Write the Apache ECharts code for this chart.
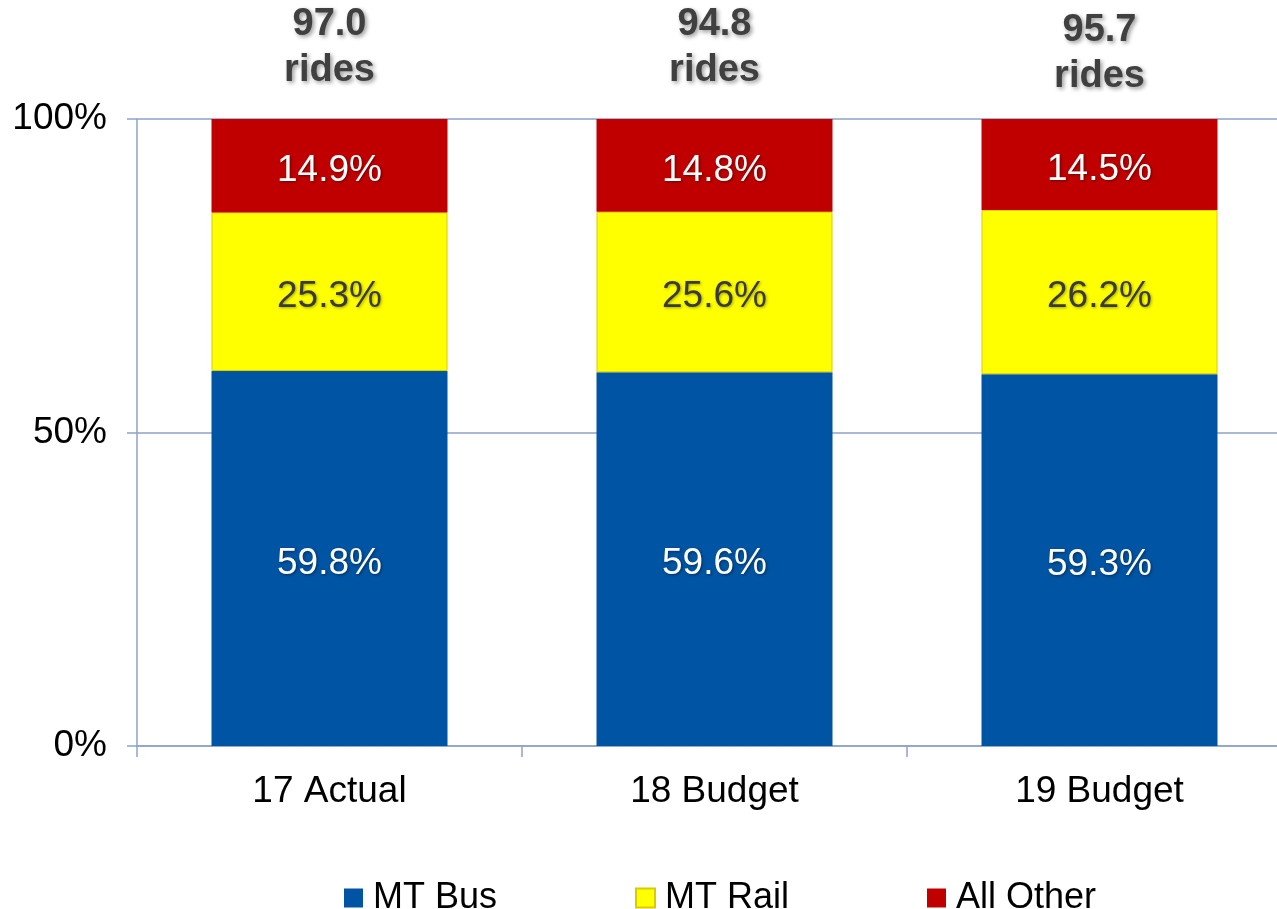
<!DOCTYPE html>
<html>
<head>
<meta charset="utf-8">
<script src="https://cdn.jsdelivr.net/npm/echarts@6/dist/echarts.min.js"></script>
<style>html,body{margin:0;padding:0;background:#fff;}#c{width:1277px;height:909px;}</style>
</head>
<body>
<div id="c"></div>
<script>
const categories = ['17 Actual', '18 Budget', '19 Budget'];
const busValues = [59.8, 59.6, 59.3];
const railValues = [25.3, 25.6, 26.2];
const otherValues = [14.9, 14.8, 14.5];
const ridesTotals = [97.0, 94.8, 95.7];
const yTicks = [0, 50, 100];

const FONT = 'Arial, "Liberation Sans", sans-serif';
const axisColor = '#8EA2C8';
const topLabelDistance = [25, 25, 19];

const chart = echarts.init(document.getElementById('c'));
function pctLabel(color, shadow) {
  return {
    show: true, position: 'inside', color: color, fontSize: 37, fontFamily: FONT,
    offset: [0, 5],
    textShadowColor: shadow, textShadowBlur: 3, textShadowOffsetX: 1, textShadowOffsetY: 1,
    formatter: p => p.value.toFixed(1) + '%'
  };
}
chart.setOption({
  animation: false,
  backgroundColor: '#fff',
  grid: { left: 137, width: 1155, top: 119, bottom: 163, outerBoundsMode: 'none', containLabel: false },
  legend: {
    data: ['MT Bus', 'MT Rail', 'All Other'],
    left: 339, top: 875, itemWidth: 19, itemHeight: 19, itemGap: 138,
    icon: 'rect',
    textStyle: { fontSize: 36, fontFamily: FONT, color: '#000', padding: [0, 0, 0, 5] }
  },
  xAxis: {
    type: 'category', data: categories,
    axisLine: { lineStyle: { color: axisColor, width: 1.5 } },
    axisTick: { show: true, length: 11, lineStyle: { color: axisColor, width: 1.5 } },
    axisLabel: { fontSize: 37, fontFamily: FONT, color: '#000', margin: 27 }
  },
  yAxis: {
    type: 'value', min: 0, max: 100, interval: 50,
    axisLine: { show: true, lineStyle: { color: axisColor, width: 1.5 } },
    axisTick: { show: true, length: 10, lineStyle: { color: axisColor, width: 1.5 } },
    splitLine: { show: true, lineStyle: { color: axisColor, width: 1.5 } },
    axisLabel: {
      fontSize: 37, fontFamily: FONT, color: '#000', margin: 30,
      formatter: v => yTicks.includes(v) ? v + '%' : ''
    }
  },
  series: [
    { name: 'MT Bus', type: 'bar', stack: 's', barWidth: 236, data: busValues,
      itemStyle: { color: '#0054A4' }, label: pctLabel('#fff', 'rgba(0,0,0,0.45)') },
    { name: 'MT Rail', type: 'bar', stack: 's', data: railValues,
      itemStyle: { color: '#FFFF00', borderColor: '#D8CC00', borderWidth: 1 },
      label: pctLabel('#3a3a3a', 'rgba(0,0,0,0.35)') },
    { name: 'All Other', type: 'bar', stack: 's', data: otherValues,
      itemStyle: { color: '#C00000' }, label: pctLabel('#fff', 'rgba(0,0,0,0.45)') },
    { name: 'total', type: 'bar', stack: 's',
      data: ridesTotals.map((v, i) => ({ value: 0, label: { distance: topLabelDistance[i] } })),
      itemStyle: { color: 'transparent' },
      label: {
        show: true, position: 'top',
        fontSize: 38, fontWeight: 'bold', fontFamily: FONT, color: '#404040', lineHeight: 46,
        textShadowColor: 'rgba(0,0,0,0.4)', textShadowBlur: 4, textShadowOffsetX: 2, textShadowOffsetY: 2,
        formatter: p => ridesTotals[p.dataIndex].toFixed(1) + '\nrides'
      } }
  ]
});
</script>
</body>
</html>
